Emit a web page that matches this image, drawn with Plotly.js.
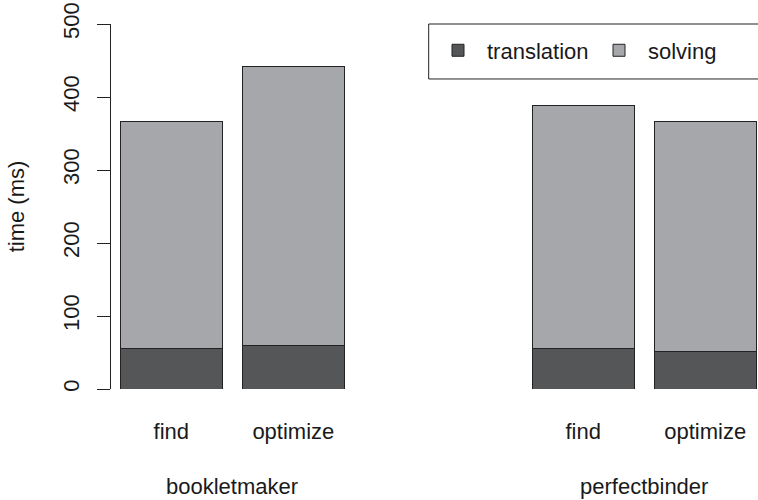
<!DOCTYPE html>
<html>
<head>
<meta charset="utf-8">
<script src="https://cdn.plot.ly/plotly-3.0.1.min.js"></script>
<style>html,body{margin:0;padding:0;background:#fff;}#chart{width:758px;height:500px;}</style>
</head>
<body>
<div id="chart"></div>
<script>
// ---- data ----
var groups = ["bookletmaker", "perfectbinder"];
var methods = ["find", "optimize"];
var translation = [55, 60, 56, 51];   // bookletmaker find, optimize, perfectbinder find, optimize
var solving = [311, 382, 332, 315];
var yTicks = [0, 100, 200, 300, 400, 500];

// ---- layout helpers (positions, not data) ----
var barStep = 1.2, groupStep = 4.05, barWidth = 1.0;
var xs = [], labels = [];
groups.forEach(function (g, gi) {
  methods.forEach(function (m, mi) {
    xs.push(gi * groupStep + mi * barStep);
    labels.push(m);
  });
});

var textColor = "#1a1a1a";
var font = {family: "Liberation Sans, Arial, sans-serif", size: 22, color: textColor};

var traces = [
  {type: "bar", name: "translation", x: xs, y: translation, width: barWidth,
   marker: {color: "#555658", line: {color: "#222222", width: 1}}},
  {type: "bar", name: "solving", x: xs, y: solving, width: barWidth,
   marker: {color: "#a6a7aa", line: {color: "#222222", width: 1}}}
];

var annotations = groups.map(function (g, gi) {
  return {text: g, xref: "x", yref: "paper", x: gi * groupStep + barStep / 2, y: -0.267,
          showarrow: false, xanchor: "center", yanchor: "middle", font: font};
});

var layout = {
  width: 758, height: 500,
  margin: {l: 111, r: 0, t: 24, b: 111, pad: 0, autoexpand: false},
  paper_bgcolor: "#ffffff", plot_bgcolor: "#ffffff",
  font: font,
  barmode: "stack",
  showlegend: true,
  legend: {orientation: "h", x: 0.4915, y: 0.985, xanchor: "left", yanchor: "top",
           bgcolor: "rgba(0,0,0,0)", borderwidth: 0, font: font, itemwidth: 48,
           traceorder: "normal", entrywidth: 98, entrywidthmode: "pixels"},
  xaxis: {range: [-0.593, 5.769], showline: false, zeroline: false, showgrid: false,
          tickmode: "array", tickvals: xs, ticktext: labels, ticks: "",
          ticklabelstandoff: 27, tickfont: font, fixedrange: true},
  yaxis: {range: [0, 500], showline: true, linecolor: "#222222", linewidth: 1,
          zeroline: false, showgrid: false, ticks: "outside", ticklen: 13, tickwidth: 1,
          tickcolor: "#222222", tickmode: "array", tickvals: yTicks,
          tickangle: -90, tickfont: font, ticklabelstandoff: 9,
          title: {text: "time (ms)", font: font, standoff: 28}},
  shapes: [{type: "rect", xref: "paper", yref: "paper", x0: 0.491, x1: 1.05, y0: 0.8494, y1: 1.0,
            line: {color: "#222222", width: 1}, fillcolor: "rgba(0,0,0,0)", layer: "above"}],
  annotations: annotations
};

Plotly.newPlot("chart", traces, layout, {displayModeBar: false, staticPlot: true});
</script>
</body>
</html>
